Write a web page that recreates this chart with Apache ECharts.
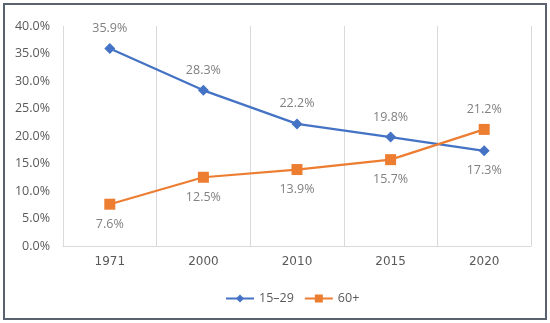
<!DOCTYPE html>
<html><head><meta charset="utf-8">
<script src="https://cdn.jsdelivr.net/npm/echarts@6/dist/echarts.min.js"></script>
<style>
html,body{margin:0;padding:0;background:#fff;}
#frame{position:absolute;left:3px;top:3px;width:540px;height:313px;border:2px solid #5a6270;box-sizing:content-box;}
#chart{position:absolute;left:0;top:0;width:550px;height:323px;}
</style></head>
<body>
<div id="frame"></div>
<div id="chart"></div>
<script>
var categories = ['1971','2000','2010','2015','2020'];
var youth = [35.9, 28.3, 22.2, 19.8, 17.3];
var elderly = [7.6, 12.5, 13.9, 15.7, 21.2];
var seriesNames = ['15–29', '60+'];
var yTicks = {min: 0, max: 40, interval: 5};

var labelStyle = {show: true, color: '#808080', fontSize: 12.5, fontFamily: 'Open Sans, sans-serif', distance: 8,
  formatter: function(p){ return p.value.toFixed(1) + '%'; }};

function buildData(values, normalPos, lastPos) {
  return values.map(function(v, i){
    return {value: v, label: {position: i === values.length - 1 ? lastPos : normalPos}};
  });
}

var chart = echarts.init(document.getElementById('chart'));
chart.setOption({
  animation: false,
  grid: {left: 63, right: 19, top: 26, bottom: 77},
  xAxis: {
    type: 'category', data: categories, boundaryGap: true,
    axisLine: {lineStyle: {color: '#d9d9d9'}},
    axisTick: {show: false},
    splitLine: {show: true, lineStyle: {color: '#d9d9d9'}},
    axisLabel: {color: '#595959', fontSize: 12, fontFamily: 'DejaVu Sans, sans-serif', margin: 10}
  },
  yAxis: {
    type: 'value', min: yTicks.min, max: yTicks.max, interval: yTicks.interval,
    axisLine: {show: false}, axisTick: {show: false}, splitLine: {show: false},
    axisLabel: {color: '#595959', fontSize: 12.5, fontFamily: 'Open Sans, sans-serif', margin: 13,
      formatter: function(v){ return v.toFixed(1) + '%'; }}
  },
  legend: {
    top: 287, left: 220, itemWidth: 28, itemHeight: 10, itemGap: 10,
    textStyle: {color: '#595959', fontSize: 12.5, fontFamily: 'Open Sans, sans-serif'},
    data: seriesNames
  },
  series: [
    {name: seriesNames[0], type: 'line', data: buildData(youth, 'top', 'bottom'),
      symbol: 'diamond', symbolSize: 11, color: '#4472C4',
      lineStyle: {width: 2.2, color: '#4472C4'}, itemStyle: {color: '#4472C4'}, label: labelStyle},
    {name: seriesNames[1], type: 'line', data: buildData(elderly, 'bottom', 'top'),
      symbol: 'rect', symbolSize: 11, color: '#ED7D31',
      lineStyle: {width: 2.2, color: '#ED7D31'}, itemStyle: {color: '#ED7D31'}, label: labelStyle}
  ]
});
</script>
</body></html>
